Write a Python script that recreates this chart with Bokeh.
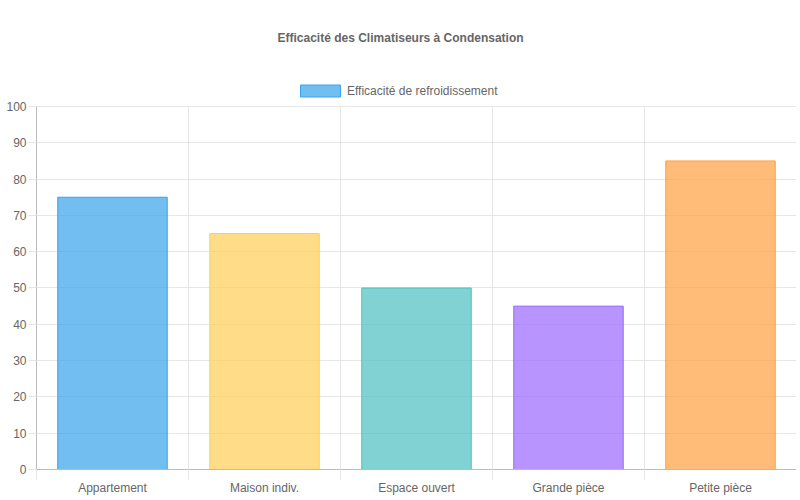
from bokeh.plotting import figure
from bokeh.models import ColumnDataSource, FixedTicker, Legend, LegendItem, Range1d
from bokeh.embed import file_html
from bokeh.resources import INLINE

# data
categories = ["Appartement", "Maison indiv.", "Espace ouvert", "Grande pièce", "Petite pièce"]
efficacite = [75, 65, 50, 45, 85]
bar_colors = ["#36A2EB", "#FFCE56", "#4BC0C0", "#9966FF", "#FF9F40"]
y_ticks = list(range(0, 101, 10))
titre = "Efficacité des Climatiseurs à Condensation"
serie = "Efficacité de refroidissement"

FONT = "Liberation Sans"
GRID = "#e6e6e6"
TXT = "#666666"

n = len(categories)
pos = list(range(n))
y_max = y_ticks[-1]

source = ColumnDataSource(dict(x=pos, top=efficacite, color=bar_colors, cat=categories))

# the frame goes above 100 so that the legend can sit inside it
p = figure(frame_width=760, frame_height=409, output_backend="svg", toolbar_location=None, tools="",
           x_range=Range1d(-0.5, n - 0.5), y_range=Range1d(0, y_max * 1.1267),
           min_border_left=36, min_border_right=0, min_border_bottom=20, min_border_top=60)
p.outline_line_color = None

p.title.text = titre
p.title.align = "left"
p.title.offset = 241
p.title.text_font = FONT
p.title.text_font_size = "12px"
p.title.text_font_style = "bold"
p.title.text_color = TXT
p.title.standoff = 32

r = p.vbar(x="x", top="top", width=0.72, source=source,
           fill_color="color", fill_alpha=0.7, line_color="color", line_width=1)

# bokeh insets the legend box by 10%, so 50x15 gives a 40x12 swatch
legend = Legend(items=[LegendItem(label=serie, renderers=[r], index=0)],
                orientation="horizontal", location=(259, 371),
                glyph_width=50, glyph_height=15, label_text_font=FONT,
                label_text_font_size="12px", label_text_color=TXT,
                border_line_color=None, background_fill_alpha=0,
                margin=0, padding=2, label_standoff=2, label_height=12)
p.add_layout(legend, "center")

# x axis: labels at centres, ticks + grid at boundaries
p.xaxis.ticker = FixedTicker(ticks=pos, minor_ticks=[i - 0.5 for i in range(n + 1)])
p.xaxis.major_label_overrides = {i: c for i, c in enumerate(categories)}
p.xaxis.major_tick_out = 0
p.xaxis.major_tick_in = 0
p.xaxis.minor_tick_out = 10
p.xaxis.minor_tick_in = 0
p.xaxis.minor_tick_line_color = GRID
p.xaxis.major_label_standoff = 1
p.xgrid.grid_line_color = None
p.xgrid.minor_grid_line_color = GRID
p.xgrid.cross_bounds = (0, y_max)

p.yaxis.ticker = FixedTicker(ticks=y_ticks)
p.yaxis.bounds = (0, y_max)
p.yaxis.major_tick_out = 8
p.yaxis.major_tick_in = 0
p.yaxis.major_tick_line_color = GRID
p.yaxis.minor_tick_line_color = None
p.yaxis.major_label_standoff = 2
p.ygrid.grid_line_color = GRID

for ax in (p.xaxis, p.yaxis):
    ax.axis_line_color = "#bbbbbb"
    ax.major_label_text_font = FONT
    ax.major_label_text_font_size = "12px"
    ax.major_label_text_color = TXT

open("out.html", "w").write(file_html(p, INLINE))
